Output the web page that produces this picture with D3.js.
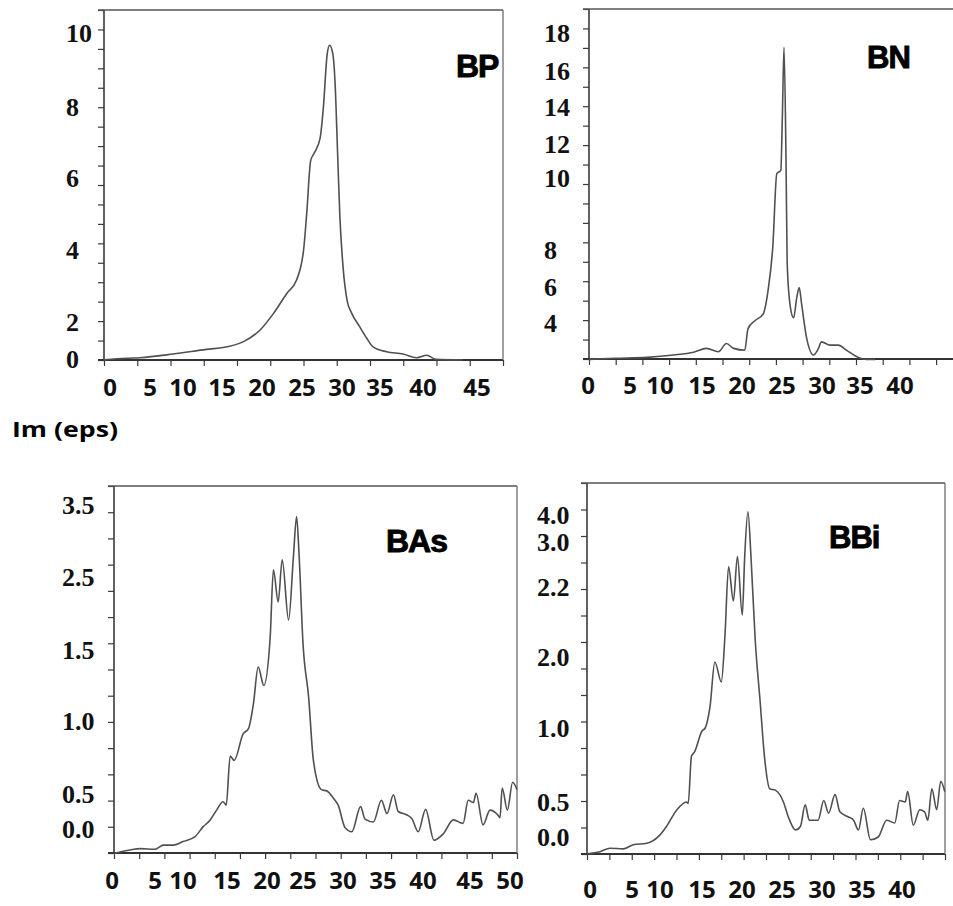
<!DOCTYPE html>
<html><head><meta charset="utf-8">
<script src="https://cdn.jsdelivr.net/npm/d3@7"></script>
<style>body{margin:0;background:#fff}svg{display:block}</style>
</head><body><svg id="c" width="953" height="906"></svg>
<script>
// ---------- data (values read in each panel's own tick-label units) ----------
const bpX = [-0.76,2.1,3.8,8.0,12.2,14.8,16.9,19.0,20.7,22.4,23.6,24.5,24.9,25.4,25.9,26.6,27.0,27.5,27.8,28.2,28.5,28.8,29.1,29.5,30.0,30.6,31.6,32.5,33.3,35.0,37.1,38.8,40.07,41.0,43.6];
const bpY = [-0.05,0.04,0.07,0.27,0.52,0.66,0.94,1.57,2.24,2.80,3.16,3.99,5.01,6.49,6.72,7.13,7.96,9.44,9.67,9.44,8.61,6.76,4.92,3.53,2.61,2.24,1.75,1.12,0.66,0.39,0.27,0.07,0.2,-0.02,-0.05];

const bnX = [0.12,3.2,7.8,11.7,14.2,15.8,17.3,18.3,19.2,20.6,21.0,21.9,22.9,23.5,24.1,24.6,25.1,25.3,25.5,25.75,25.9,26.3,26.7,27.1,27.4,27.7,28.3,29.2,29.7,30.2,31.25,32.3,33.3,34.6,35.8,36.9];
const bnY = [1.98,2.04,2.09,2.22,2.38,2.59,2.40,2.86,2.59,2.49,3.69,4.14,4.51,5.79,8.09,10.26,10.44,13.57,17.25,11.18,7.26,4.87,4.29,5.42,5.97,5.06,3.23,2.22,2.49,2.95,2.77,2.77,2.49,2.13,1.98,1.98];

const basX = [0.23,2.1,3.3,5.0,6.5,8.25,10.0,11.5,12.5,13.4,14.2,15.0,15.4,15.9,16.4,17.5,18.2,18.8,19.4,20.1,20.9,21.3,21.9,22.4,23.2,23.8,24.2,24.5,25.0,25.7,26.3,27.3,28.0,28.8,29.4,30.25,31.1,32.2,32.75,33.8,34.8,35.5,36.3,36.9,38.0,38.6,39.4,40.3,41.26,42.33,43.48,44.6,45.2,45.8,46.1,46.9,47.7,48.6,48.85,49.1,49.7,50.3,50.8];
const basY = [-0.35,-0.30,-0.28,-0.29,-0.23,-0.23,-0.18,-0.11,0.03,0.13,0.27,0.39,0.34,0.76,0.73,0.91,0.95,1.12,1.38,1.25,1.68,2.60,2.16,2.74,1.91,2.78,3.34,2.83,1.59,1.17,0.73,0.53,0.52,0.44,0.34,0.02,-0.04,0.32,0.14,0.10,0.41,0.22,0.49,0.25,0.20,0.15,-0.04,0.28,-0.16,-0.07,0.13,0.08,0.41,0.38,0.505,0.06,0.27,0.20,0.16,0.54,0.27,0.58,0.53];

const bbiX = [-0.39,1.19,2.38,3.96,5.23,7.63,10.0,10.8,12.1,13.3,13.5,13.9,14.3,15.2,15.6,16.2,16.8,17.6,18.05,18.5,19.1,19.6,20.2,20.5,20.9,21.3,21.8,22.4,23.0,23.6,24.3,25.3,25.9,26.8,27.4,28.0,28.5,29.6,30.3,30.9,31.7,32.3,33.3,34.0,34.6,35.2,36.1,37.05,38.1,39.1,39.7,40.4,40.7,41.4,42.2,42.8,43.2,43.7,44.3,44.8,45.3];
const bbiY = [-0.24,-0.21,-0.16,-0.17,-0.11,-0.09,0.03,0.15,0.39,0.50,0.48,0.81,0.84,0.98,1.0,1.30,1.93,1.65,2.06,2.56,2.16,2.74,2.12,2.74,4.12,2.68,2.05,1.39,0.78,0.59,0.58,0.50,0.29,0.10,0.15,0.46,0.24,0.24,0.51,0.34,0.55,0.36,0.29,0.24,0.10,0.41,-0.04,0.0,0.24,0.20,0.51,0.50,0.57,0.17,0.39,0.36,0.24,0.59,0.39,0.64,0.57];

// tick labels
const bpXTicks = [0,5,10,15,20,25,30,35,40,45];
const bpYTicks = [0,2,4,6,8,10];
const bnXTicks = [0,5,10,15,20,25,30,35,40];
const bnYTicks = [4,6,8,10,12,14,16,18];
const basXTicks = [0,5,10,15,20,25,30,35,40,45,50];
const basYTicks = [0.0,0.5,1.0,1.5,2.5,3.5];
const bbiXTicks = [0,5,10,15,20,25,30,35,40];
const bbiYTicks = [0.0,0.5,1.0,2.0,2.2,3.0,4.0];
const panelNames = ["BP","BN","BAs","BBi"];
const axisTitle = "Im (eps)";

// ---------- layout ----------
const panels = [
  {name:panelNames[0], xs:bpX, ys:bpY, l:104, t:10, r:503, b:360, rightBorder:true,
   xKn:[0,40,45], xKnPx:[110,426,477],
   xLab:bpXTicks, xLabPx:[110,150,183,222,262,302,342,380,423,477], xLabY:396,
   yKn:[0,2,4,6,8,10], yKnPx:[359,322,250,178,107,33], yLab:bpYTicks, yLabX:66, yFmt:d3.format("d"),
   nXT:12, nYT:18, title:{x:456,y:77,size:32}},
  {name:panelNames[1], xs:bnX, ys:bnY, l:589, t:9, r:953, b:359, rightBorder:false,
   xKn:[0,5,10,40], xKnPx:[588,630,660,900],
   xLab:bnXTicks, xLabPx:[588,630,660,702,742,782,822,860,900], xLabY:394,
   yKn:[2,4,6,8,10,12,14,16,18], yKnPx:[359,323,287,250,178,144,107,71,33], yLab:bnYTicks, yLabX:544, yFmt:d3.format("d"),
   nXT:14, nYT:18, xtEnd:589+14*26.7, title:{x:867,y:68,size:31}},
  {name:panelNames[2], xs:basX, ys:basY, l:114, t:486, r:517, b:853, rightBorder:true,
   xKn:[0,5,10,40,50], xKnPx:[112,155,183,423,510],
   xLab:basXTicks, xLabPx:[112,155,183,227,267,303,343,383,423,470,510], xLabY:889,
   yKn:[0,0.5,1,1.5,2.5,3.5], yKnPx:[829,794,721,650,577,505], yLab:basYTicks, yLabX:62, yFmt:d3.format(".1f"),
   nXT:16, nYT:14, title:{x:386,y:552,size:32}},
  {name:panelNames[3], xs:bbiX, ys:bbiY, l:587, t:483, r:945, b:854, rightBorder:true,
   xKn:[0,5,10,40], xKnPx:[590,632,660,902],
   xLab:bbiXTicks, xLabPx:[590,632,660,702,742,782,822,862,902], xLabY:898,
   yKn:[0,0.5,1,2,2.2,3,4], yKnPx:[837,802,728,657,587,542,515], yLab:bbiYTicks, yLabX:537, yFmt:d3.format(".1f"),
   nXT:16, nYT:14, title:{x:829,y:548,size:31}}
];

const svg = d3.select("#c");
const axisCol = "#3a3a3a";

panels.forEach(p => {
  const g = svg.append("g");
  const x = d3.scaleLinear().domain(p.xKn).range(p.xKnPx);
  const y = d3.scaleLinear().domain(p.yKn).range(p.yKnPx);
  const xl = d3.scaleLinear().domain(p.xLab).range(p.xLabPx);

  // tick marks (unlabelled, evenly spaced as in the original frame)
  const xtEnd = p.xtEnd || p.r;
  const xt = d3.scaleLinear().domain([0,p.nXT]).range([p.l, xtEnd]);
  const yt = d3.scaleLinear().domain([0,p.nYT]).range([p.b, p.t]);
  const ax = g.append("g").attr("transform",`translate(0,${p.b})`)
    .call(d3.axisBottom(xt).ticks(p.nXT).tickFormat("").tickSize(6).tickSizeOuter(0));
  const ay = g.append("g").attr("transform",`translate(${p.l},0)`)
    .call(d3.axisLeft(yt).ticks(p.nYT).tickFormat("").tickSize(6).tickSizeOuter(0));
  [ax,ay].forEach(a => { a.select(".domain").remove(); a.selectAll("line").attr("stroke",axisCol).attr("stroke-width",1.2); });

  // frame
  const fr = g.append("g").attr("stroke",axisCol).attr("fill","none");
  fr.append("line").attr("x1",p.l).attr("x2",p.l).attr("y1",p.t).attr("y2",p.b).attr("stroke-width",1.6);
  fr.append("line").attr("x1",p.l-6).attr("x2",p.r).attr("y1",p.t).attr("y2",p.t).attr("stroke-width",1.4).attr("stroke","#555");
  fr.append("line").attr("x1",p.l-6).attr("x2",p.r).attr("y1",p.b).attr("y2",p.b).attr("stroke-width",2).attr("stroke","#333");
  if (p.rightBorder) fr.append("line").attr("x1",p.r).attr("x2",p.r).attr("y1",p.t).attr("y2",p.b).attr("stroke-width",1.4).attr("stroke","#777");

  // curve
  const pts = p.xs.map((v,i)=>[v,p.ys[i]]);
  g.append("path").datum(pts)
    .attr("d", d3.line().x(d=>x(d[0])).y(d=>y(d[1])).curve(d3.curveMonotoneX))
    .attr("fill","none").attr("stroke","#505050").attr("stroke-width",1.6).attr("stroke-linejoin","round");

  // x tick labels
  g.append("g").selectAll("text").data(p.xLab).join("text")
    .attr("x", d=>xl(d)).attr("y", p.xLabY).attr("text-anchor","middle")
    .attr("font-family","'Open Sans', sans-serif").attr("font-weight",700).attr("font-size",24)
    .attr("fill","#111").text(d=>d);

  // y tick labels
  g.append("g").selectAll("text").data(p.yLab).join("text")
    .attr("x", p.yLabX).attr("y", d=>y(d)).attr("dy","0.34em").attr("text-anchor","start")
    .attr("font-family","'Liberation Serif', serif").attr("font-weight",700).attr("font-size",26)
    .attr("fill","#111").text(d=>p.yFmt(d));

  // panel title
  g.append("text").attr("x",p.title.x).attr("y",p.title.y)
    .attr("font-family","'Liberation Sans', Arial, sans-serif").attr("font-weight",700)
    .attr("font-size",p.title.size).attr("letter-spacing",-1).attr("fill","#000")
    .attr("stroke","#000").attr("stroke-width",0.9).text(p.name);
});

svg.append("text").attr("x",12).attr("y",437)
  .attr("font-family","'Open Sans', sans-serif").attr("font-weight",700).attr("font-size",22)
  .attr("textLength",106).attr("lengthAdjust","spacingAndGlyphs").attr("fill","#000").text(axisTitle);
</script>
</body></html>
